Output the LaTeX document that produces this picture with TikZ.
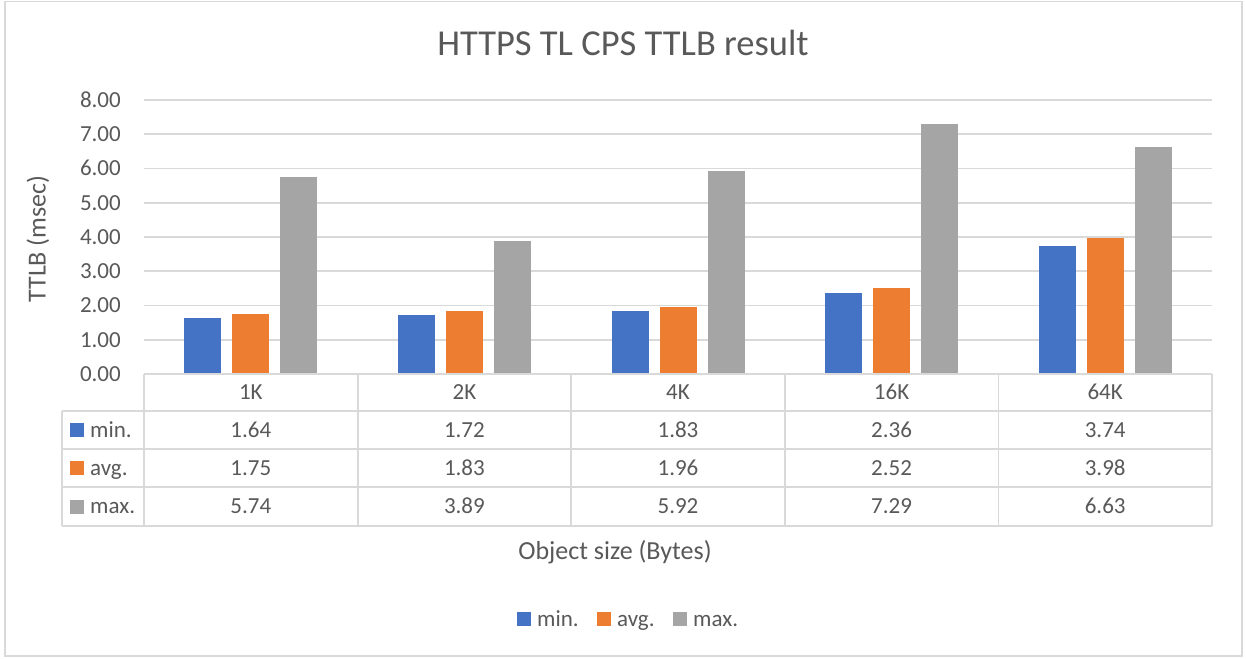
\documentclass[tikz,border=0pt]{standalone}
\usepackage{fontspec}
\setmainfont{Carlito}
\definecolor{txt}{HTML}{595959}
\definecolor{rule}{HTML}{D9D9D9}
\definecolor{smin}{HTML}{4472C4}
\definecolor{savg}{HTML}{ED7D31}
\definecolor{smax}{HTML}{A5A5A5}
\begin{document}
\begin{tikzpicture}[x=1pt,y=-1pt,
  gridline/.style={draw=rule, line width=1.6pt},
  tableline/.style={draw=rule, line width=1.8pt},
  lbl/.style={text=txt, inner sep=0pt, font=\fontsize{23}{27}\selectfont,
              text height=14.5pt, text depth=0pt},
  ticklbl/.style={lbl, anchor=east},
  keylbl/.style={lbl, anchor=west},
  keybox/.style={minimum size=14pt, inner sep=0pt, outer sep=0pt}]
% canvas and chart frame
\useasboundingbox (0,0) rectangle (1246,658);
\fill[white] (0,0) rectangle (1246,658);
\draw[draw=rule, line width=1.5pt] (5,1.5) rectangle (1242,656);

% title
\node[text=txt, anchor=base, inner sep=0pt, font=\fontsize{36.5}{42}\selectfont]
  (title) at (623,56) {HTTPS TL CPS TTLB result};

% horizontal gridlines and value axis labels
\foreach \v in {1,...,8}
  \draw[gridline] (144,{374-34.25*\v}) -- (1212,{374-34.25*\v});
\foreach \v in {0,...,8}
  \node[ticklbl] (tick\v) at (121,{374-34.25*\v}) {\v.00};

% value axis title
\node[text=txt, rotate=90, anchor=center, inner sep=0pt, font=\fontsize{26}{30}\selectfont,
      text height=17pt, text depth=0pt]
  (ytitle) at (37,239) {TTLB (msec)};

% bars: min / avg / max per object size
\foreach \a/\b/\c [count=\i from 0] in
  {1.64/1.75/5.74, 1.72/1.83/3.89, 1.83/1.96/5.92, 2.36/2.52/7.29, 3.74/3.98/6.63}{
  \pgfmathsetmacro\cx{144+213.6*(\i+0.5)}
  \fill[smin] ({\cx-66.5},374) rectangle ({\cx-29.5},{374-34.25*\a});
  \fill[savg] ({\cx-18.5},374) rectangle ({\cx+18.5},{374-34.25*\b});
  \fill[smax] ({\cx+29.5},374) rectangle ({\cx+66.5},{374-34.25*\c});
  \node[lbl] (val\i-min) at (\cx,430) {\a};
  \node[lbl] (val\i-avg) at (\cx,468.3) {\b};
  \node[lbl] (val\i-max) at (\cx,506.6) {\c};
}

% data table grid
\draw[tableline] (144,374) -- (1212,374);
\foreach \y in {410.7,449,487.3,525.6}
  \draw[tableline] (62,\y) -- (1212,\y);
\draw[tableline] (62,410.7) -- (62,525.6);
\foreach \i in {0,...,5}
  \draw[tableline] ({144+213.6*\i},374) -- ({144+213.6*\i},525.6);

% category header row
\foreach \lab [count=\i from 0] in {1K,2K,4K,16K,64K}
  \node[lbl] (cat\i) at ({144+213.6*(\i+0.5)},392.5) {\lab};

% series keys in the table
\node[keybox, fill=smin] (tkmin) at (77,430) {};
\node[keylbl] (tlmin) at (90,430) {min.};
\node[keybox, fill=savg] (tkavg) at (77,468.3) {};
\node[keylbl] (tlavg) at (90,468.3) {avg.};
\node[keybox, fill=smax] (tkmax) at (77,506.6) {};
\node[keylbl] (tlmax) at (90,506.6) {max.};

% category axis title
\node[text=txt, anchor=base, inner sep=0pt, font=\fontsize{26}{30}\selectfont]
  (xtitle) at (615,559) {Object size (Bytes)};

% legend
\node[keybox, fill=smin] (lkmin) at (524,619) {};
\node[keylbl] (llmin) at (537,619) {min.};
\node[keybox, fill=savg] (lkavg) at (604,619) {};
\node[keylbl] (llavg) at (617,619) {avg.};
\node[keybox, fill=smax] (lkmax) at (680,619) {};
\node[keylbl] (llmax) at (693,619) {max.};
\end{tikzpicture}
\end{document}
